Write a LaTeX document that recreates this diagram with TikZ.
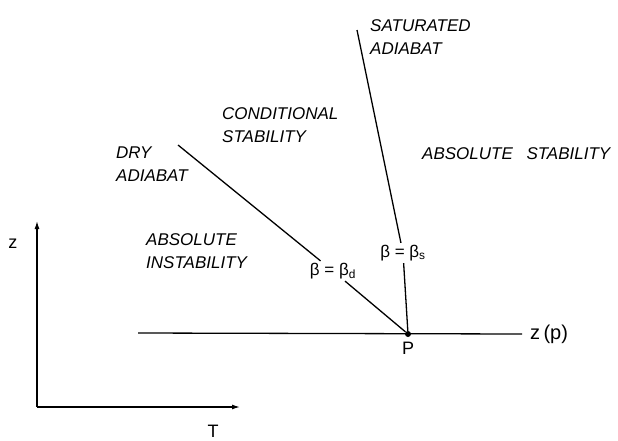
\documentclass[tikz,border=0pt]{standalone}
\usepackage{fontspec}
\setmainfont{Liberation Sans}
\usepackage{tikz}
\usetikzlibrary{arrows.meta,positioning}

\begin{document}
\begin{tikzpicture}[
  x=1pt, y=-1pt,
  font=\fontsize{18}{22}\selectfont,
  lbl/.style={font=\fontsize{17}{23}\selectfont\itshape, align=left, anchor=west, inner sep=0pt},
  beta/.style={inner sep=2pt, font=\fontsize{17}{20}\selectfont},
  ln/.style={line width=1.3pt},
  ax/.style={line width=1.3pt, -{Latex[length=8pt,width=5pt]}}
]
\useasboundingbox (0,0) rectangle (618,440);
% parcel point and the two adiabats
\node[circle, fill, inner sep=0pt, minimum size=6pt] (P) at (408,334) {};
\node[below=5pt of P, inner sep=0pt] (Plbl) {P};
\coordinate (dtop) at (178,145);
\coordinate (stop) at (357,30);
\node[beta] (bd) at (333,271) {β = β\textsubscript{d}};
\node[beta] (bs) at (403,253) {β = β\textsubscript{s}};
\draw[ln] (dtop) -- (bd) -- (P);
\draw[ln] (stop) -- (bs) -- (P);
% level line z(p)
\coordinate (hl) at (138,333);
\node[anchor=west, inner sep=0pt, font=\fontsize{20}{22}\selectfont] (zp) at (530,334) {z\,(p)};
\draw[ln] (hl) -- ([xshift=-8pt]zp.west);
% region labels
\node[lbl] (sat) at (370,37) {SATURATED\\ADIABAT};
\node[lbl] (cond) at (222,125) {CONDITIONAL\\STABILITY};
\node[lbl] (dry) at (116,164) {DRY\\ADIABAT};
\node[lbl] (astab) at (422,154) {ABSOLUTE\hspace{0.8em}STABILITY};
\node[lbl] (ainst) at (146,251) {ABSOLUTE\\INSTABILITY};
% axes
\coordinate (O) at (37,407);
\coordinate (zend) at (37,221);
\coordinate (Tend) at (240,407);
\draw[ax] (O) -- (zend);
\draw[ax] (O) -- (Tend);
\node (zlbl) at (13,244) {z};
\node (Tlbl) at (213,431) {T};
\end{tikzpicture}
\end{document}
